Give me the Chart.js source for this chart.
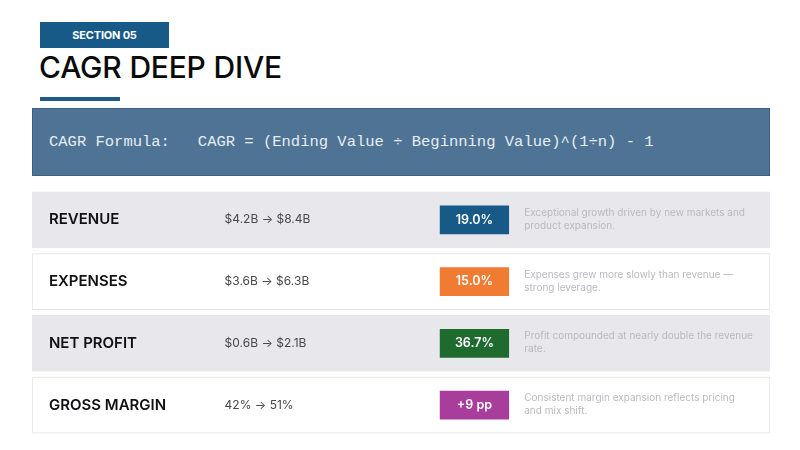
<!DOCTYPE html>
<html>
<head>
<meta charset="utf-8">
<script src="https://cdn.jsdelivr.net/npm/chart.js@4.4.0/dist/chart.umd.min.js"></script>
<style>
  html,body{margin:0;padding:0;background:#fff;}
  body{width:800px;height:450px;position:relative;overflow:hidden;font-family:Inter,"Noto Sans",sans-serif;}
  .section{position:absolute;left:40px;top:22px;width:129px;height:26px;background:#175a88;color:#fff;
    font-size:11px;font-weight:700;line-height:26px;text-align:center;letter-spacing:-0.2px;}
  .title{position:absolute;left:39px;top:49px;font-size:30px;font-weight:500;color:#0a0a0a;letter-spacing:-0.2px;}
  .rule{position:absolute;left:40px;top:97px;width:80px;height:4px;background:#1f5a86;}
  .formula{position:absolute;left:32px;top:108px;width:720px;height:66px;background:#4f7394;border:1px solid #3e6183;
    color:#e6edf3;font-family:"Liberation Mono","DejaVu Sans Mono",monospace;font-size:15.5px;line-height:66px;
    padding-left:16px;box-sizing:content-box;white-space:pre;}
  #wrap{position:absolute;left:32px;top:189px;width:738px;height:247px;}
</style>
</head>
<body>
<div class="section">SECTION 05</div>
<div class="title">CAGR DEEP DIVE</div>
<div class="rule"></div>
<div class="formula">CAGR Formula:   CAGR = (Ending Value ÷ Beginning Value)^(1÷n) - 1</div>
<div id="wrap"><canvas id="cagr"></canvas></div>
<script>
// table content
const metrics = ['REVENUE', 'EXPENSES', 'NET PROFIT', 'GROSS MARGIN'];
const ranges = ['$4.2B \u2192 $8.4B', '$3.6B \u2192 $6.3B', '$0.6B \u2192 $2.1B', '42% \u2192 51%'];
const growth = ['19.0%', '15.0%', '36.7%', '+9 pp'];
const notes = [
  ['Exceptional growth driven by new markets and', 'product expansion.'],
  ['Expenses grew more slowly than revenue \u2014', 'strong leverage.'],
  ['Profit compounded at nearly double the revenue', 'rate.'],
  ['Consistent margin expansion reflects pricing', 'and mix shift.']
];

// layout on a 0-100 horizontal grid
const ROW = [0, 100];
const BADGE = [55.3, 64.6];
const badgeColors = ['#175a88', '#f07b32', '#1e6a2f', '#a83d9b'];
const rowColors = ['#e8e7eb', '#ffffff', '#e8e7eb', '#ffffff'];
const rowBorders = ['#e8e7eb', '#e3e3e7', '#e8e7eb', '#e3e3e7'];

const textPlugin = {
  id: 'rowText',
  afterDatasetsDraw(chart){
    const ctx = chart.ctx;
    const x = chart.scales.x, y = chart.scales.y;
    const badgeMeta = chart.getDatasetMeta(1);
    ctx.save();
    metrics.forEach((m, i) => {
      const cy = y.getPixelForValue(i);
      ctx.textBaseline = 'middle';
      // metric name
      ctx.font = '600 15px Inter, "Noto Sans", sans-serif';
      ctx.fillStyle = '#111114';
      ctx.textAlign = 'left';
      ctx.fillText(m, x.getPixelForValue(2.3), cy);
      // range column
      ctx.font = '12px Inter, "Noto Sans", sans-serif';
      ctx.fillStyle = '#48484c';
      ctx.fillText(ranges[i], x.getPixelForValue(26.1), cy);
      // badge label
      const bar = badgeMeta.data[i];
      ctx.font = '600 12.5px Inter, "Noto Sans", sans-serif';
      ctx.fillStyle = '#ffffff';
      ctx.textAlign = 'center';
      ctx.fillText(growth[i], (bar.x + bar.base) / 2, cy);
      // notes
      ctx.font = '10px Inter, "Noto Sans", sans-serif';
      ctx.fillStyle = '#b9b9c0';
      ctx.textAlign = 'left';
      ctx.fillText(notes[i][0], x.getPixelForValue(66.7), cy - 7);
      ctx.fillText(notes[i][1], x.getPixelForValue(66.7), cy + 6);
    });
    ctx.restore();
  }
};

new Chart(document.getElementById('cagr'), {
  type: 'bar',
  data: {
    labels: metrics,
    datasets: [
      {
        data: metrics.map(() => ROW),
        backgroundColor: rowColors,
        borderColor: rowBorders,
        borderWidth: 1,
        borderSkipped: false,
        barThickness: 56,
        grouped: false,
        order: 2
      },
      {
        data: metrics.map(() => BADGE),
        backgroundColor: badgeColors,
        borderWidth: 0,
        barThickness: 28,
        grouped: false,
        order: 1
      }
    ]
  },
  options: {
    indexAxis: 'y',
    responsive: true,
    maintainAspectRatio: false,
    animation: false,
    layout: {padding: 0},
    plugins: {legend: {display: false}, tooltip: {enabled: false}},
    scales: {
      x: {min: 0, max: 100, display: false},
      y: {display: false}
    }
  },
  plugins: [textPlugin]
});
</script>
</body>
</html>
